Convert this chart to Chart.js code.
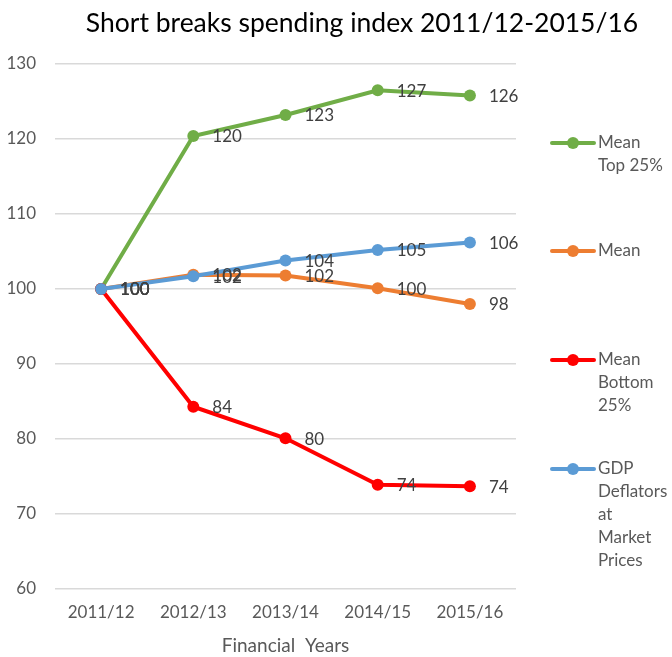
<!DOCTYPE html>
<html>
<head>
<meta charset="utf-8">
<script src="https://cdn.jsdelivr.net/npm/chart.js@4"></script>
<style>
    html, body { margin: 0; padding: 0; background: #ffffff; }
    #wrap { position: relative; width: 672px; height: 657px; }
</style>
</head>
<body>
<div id="wrap"><canvas id="indexChart" width="672" height="657"></canvas></div>
<script>
const years = ['2011/12', '2012/13', '2013/14', '2014/15', '2015/16'];
const meanTop25 = [100, 120.4, 123.2, 126.5, 125.8];
const mean = [100, 101.9, 101.8, 100.1, 98.0];
const meanBottom25 = [100, 84.3, 80.1, 73.9, 73.7];
const gdpDeflators = [100, 101.7, 103.8, 105.2, 106.2];
const yTicks = [60, 70, 80, 90, 100, 110, 120, 130];

const FONT = "Lato, 'Open Sans', sans-serif";

// value labels to the right of each point
const valueLabels = {
    id: 'valueLabels',
    afterDatasetsDraw(chart) {
        const ctx = chart.ctx;
        ctx.save();
        ctx.font = '17px ' + FONT;
        ctx.fillStyle = '#404040';
        ctx.textAlign = 'left';
        ctx.textBaseline = 'middle';
        chart.data.datasets.forEach((ds, i) => {
            chart.getDatasetMeta(i).data.forEach((pt, j) => {
                ctx.fillText(Math.round(ds.data[j]), pt.x + 19, pt.y + 1);
            });
        });
        ctx.restore();
    }
};

// title and wrapped legend on the right
const sideLegend = {
    id: 'sideLegend',
    afterDraw(chart) {
        const ctx = chart.ctx;
        ctx.save();
        ctx.font = '26.5px ' + FONT;
        ctx.fillStyle = '#000000';
        ctx.textAlign = 'center';
        ctx.textBaseline = 'middle';
        ctx.fillText('Short breaks spending index 2011/12-2015/16', 362, 23, 560);

        const rowY = [143, 251, 360, 469];
        ctx.font = '17px ' + FONT;
        ctx.textAlign = 'left';
        chart.data.datasets.forEach((ds, i) => {
            const y = rowY[i];
            ctx.strokeStyle = ds.borderColor;
            ctx.lineWidth = 4;
            ctx.lineCap = 'round';
            ctx.beginPath();
            ctx.moveTo(552, y);
            ctx.lineTo(594, y);
            ctx.stroke();
            ctx.fillStyle = ds.borderColor;
            ctx.beginPath();
            ctx.arc(573, y, 6, 0, Math.PI * 2);
            ctx.fill();

            // greedy wrap
            const words = ds.label.split(' ');
            const lines = [];
            let cur = '';
            words.forEach(w => {
                const test = cur ? cur + ' ' + w : w;
                if (cur && ctx.measureText(test).width > 72) {
                    lines.push(cur);
                    cur = w;
                } else {
                    cur = test;
                }
            });
            lines.push(cur);
            ctx.fillStyle = '#595959';
            lines.forEach((ln, k) => ctx.fillText(ln, 598, y + k * 23));
        });
        ctx.restore();
    }
};

const series = [
    { label: 'Mean Top 25%', data: meanTop25, color: '#70AD47', order: 4 },
    { label: 'Mean', data: mean, color: '#ED7D31', order: 3 },
    { label: 'Mean Bottom 25%', data: meanBottom25, color: '#FF0000', order: 2 },
    { label: 'GDP Deflators at Market Prices', data: gdpDeflators, color: '#5B9BD5', order: 1 }
];

new Chart(document.getElementById('indexChart'), {
    type: 'line',
    data: {
        labels: years,
        datasets: series.map(s => ({
            label: s.label,
            data: s.data,
            order: s.order,
            borderColor: s.color,
            backgroundColor: s.color,
            pointBackgroundColor: s.color,
            pointBorderColor: s.color,
            borderWidth: 4,
            pointRadius: 6,
            pointBorderWidth: 0,
            tension: 0,
            fill: false
        }))
    },
    options: {
        responsive: false,
        animation: false,
        events: [],
        layout: { padding: { left: 0, right: 156, top: 64, bottom: 0 } },
        plugins: {
            legend: { display: false },
            title: { display: false },
            tooltip: { enabled: false }
        },
        scales: {
            x: {
                offset: true,
                grid: { display: false, drawTicks: false },
                border: { display: false },
                ticks: {
                    color: '#595959',
                    font: { size: 17, family: FONT },
                    padding: 13,
                    maxRotation: 0
                },
                title: {
                    display: true,
                    text: 'Financial  Years',
                    color: '#595959',
                    font: { size: 19, family: FONT },
                    padding: { top: 6, bottom: 0 }
                },
                afterFit(axis) { axis.height = 68; }
            },
            y: {
                min: 60,
                max: 130,
                afterBuildTicks(axis) { axis.ticks = yTicks.map(v => ({ value: v })); },
                grid: { color: '#D9D9D9', lineWidth: 1.5, drawTicks: false },
                border: { display: false },
                ticks: {
                    color: '#595959',
                    font: { size: 17, family: FONT },
                    padding: 19
                },
                afterFit(axis) { axis.width = 55; }
            }
        }
    },
    plugins: [valueLabels, sideLegend]
});
</script>
</body>
</html>
